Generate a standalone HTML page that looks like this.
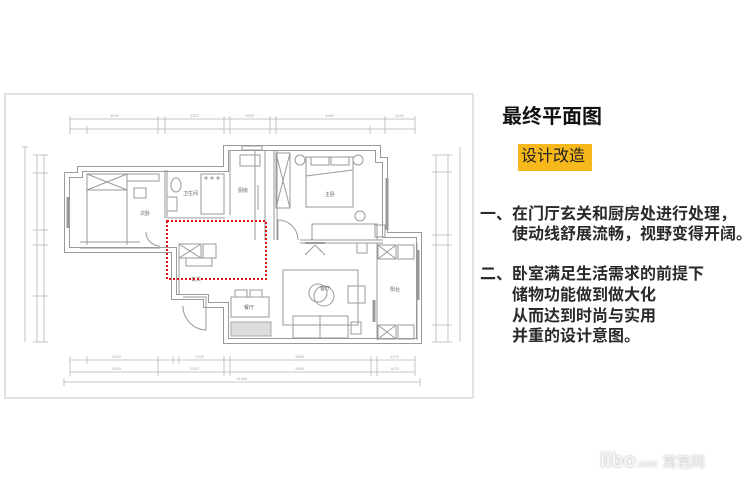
<!DOCTYPE html>
<html><head><meta charset="utf-8"><style>
html,body{margin:0;padding:0;background:#fff;width:750px;height:488px;overflow:hidden;position:relative;font-family:"Liberation Sans","Noto Sans CJK SC",sans-serif}
.t{position:absolute;color:#2a2a2a;font-size:16px;white-space:nowrap;font-weight:bold;line-height:20px}
</style></head><body>
<svg width="750" height="488" style="position:absolute;left:0;top:0" xmlns="http://www.w3.org/2000/svg">
<rect x="5" y="94" width="468" height="304" fill="none" stroke="#e2e2e2" stroke-width="2"/>
<g stroke="#b5b5b5" stroke-width="0.8" fill="none">
<!-- top dims -->
<line x1="70" y1="119" x2="415" y2="119"/><line x1="70" y1="129" x2="415" y2="129"/>
<g><line x1="70" y1="116" x2="70" y2="134"/><line x1="158" y1="116" x2="158" y2="134"/><line x1="165" y1="116" x2="165" y2="134"/><line x1="224" y1="116" x2="224" y2="134"/><line x1="230" y1="116" x2="230" y2="134"/><line x1="270" y1="116" x2="270" y2="134"/><line x1="276" y1="116" x2="276" y2="134"/><line x1="385" y1="116" x2="385" y2="134"/><line x1="415" y1="116" x2="415" y2="134"/><line x1="87" y1="126" x2="87" y2="134"/><line x1="370" y1="126" x2="370" y2="134"/></g>
<!-- left dims -->
<line x1="25" y1="147" x2="25" y2="342"/><line x1="37" y1="155" x2="37" y2="342"/><line x1="44" y1="155" x2="44" y2="342"/>
<g><line x1="33" y1="155" x2="48" y2="155"/><line x1="33" y1="173" x2="48" y2="173"/><line x1="33" y1="230" x2="48" y2="230"/><line x1="33" y1="245" x2="48" y2="245"/><line x1="33" y1="296" x2="48" y2="296"/><line x1="33" y1="342" x2="48" y2="342"/><line x1="22" y1="147" x2="28" y2="147"/></g>
<!-- right dims -->
<line x1="436" y1="155" x2="436" y2="342"/><line x1="448" y1="155" x2="448" y2="342"/><line x1="460" y1="147" x2="460" y2="342"/>
<g><line x1="432" y1="155" x2="452" y2="155"/><line x1="432" y1="172" x2="452" y2="172"/><line x1="432" y1="235" x2="452" y2="235"/><line x1="432" y1="245" x2="452" y2="245"/><line x1="432" y1="325" x2="452" y2="325"/><line x1="432" y1="342" x2="452" y2="342"/></g>
<!-- bottom dims -->
<line x1="70" y1="360" x2="415" y2="360"/><line x1="70" y1="372" x2="415" y2="372"/><line x1="64" y1="382" x2="420" y2="382"/>
<g><line x1="70" y1="356" x2="70" y2="376"/><line x1="87" y1="356" x2="87" y2="364"/><line x1="158" y1="356" x2="158" y2="376"/><line x1="173" y1="356" x2="173" y2="364"/><line x1="179" y1="356" x2="179" y2="364"/><line x1="224" y1="356" x2="224" y2="376"/><line x1="230" y1="356" x2="230" y2="376"/><line x1="371" y1="356" x2="371" y2="376"/><line x1="377" y1="356" x2="377" y2="376"/><line x1="415" y1="356" x2="415" y2="376"/><line x1="64" y1="378" x2="64" y2="386"/><line x1="420" y1="378" x2="420" y2="386"/></g>
</g>
<g font-size="4" fill="#aaa" font-family="Liberation Sans">
<text x="110" y="117">3490</text><text x="190" y="117">2320</text><text x="245" y="117">2530</text><text x="325" y="117">4360</text><text x="395" y="117">1020</text>
<text x="112" y="358">2950</text><text x="195" y="358">1700</text><text x="295" y="358">3560</text><text x="390" y="358">1470</text>
<text x="112" y="370">3490</text><text x="190" y="370">2520</text><text x="295" y="370">3560</text><text x="390" y="370">1470</text><text x="236" y="380">14360</text>
</g>
<!-- walls -->
<g fill="none" stroke-linejoin="miter">
<path id="w" d="M67,175 L80,175 L80,169 L226,169 L226,148 L378,148 L378,160 L385,160 L385,235 L419,235 L419,341 L226,341 L226,305 L206,305 L206,297 L174,297 L174,250 L67,250 Z" stroke="#9a9a9a" stroke-width="6"/>
<path d="M67,175 L80,175 L80,169 L226,169 L226,148 L378,148 L378,160 L385,160 L385,235 L419,235 L419,341 L226,341 L226,305 L206,305 L206,297 L174,297 L174,250 L67,250 Z" stroke="#fff" stroke-width="4"/>
</g>
<g stroke="#9a9a9a" stroke-width="1" fill="none">
<line x1="165" y1="170" x2="165" y2="218"/><line x1="167" y1="170" x2="167" y2="218"/>
<line x1="230" y1="150" x2="230" y2="215"/><line x1="255" y1="150" x2="255" y2="240"/><line x1="265" y1="150" x2="265" y2="240"/>
<line x1="274" y1="150" x2="274" y2="240"/><line x1="277" y1="150" x2="277" y2="240"/>
<line x1="80" y1="242" x2="140" y2="242"/><line x1="80" y1="248" x2="160" y2="248"/>
<line x1="300" y1="240" x2="383" y2="240"/><line x1="300" y1="243" x2="383" y2="243"/>
<line x1="168" y1="218" x2="225" y2="218"/>
<line x1="377" y1="243" x2="377" y2="340"/><line x1="417" y1="243" x2="417" y2="340"/>
<line x1="68" y1="197" x2="68" y2="228" stroke-width="3"/>
<line x1="418" y1="250" x2="418" y2="300" stroke-width="3"/>
<line x1="387" y1="178" x2="387" y2="230" stroke-width="3"/>
<line x1="374" y1="300" x2="374" y2="322" stroke-width="3"/>
<!-- bedroom2 -->
<rect x="87" y="174" width="40" height="16"/><line x1="87" y1="174" x2="127" y2="190"/><line x1="127" y1="174" x2="87" y2="190"/>
<rect x="127" y="174" width="32" height="7"/><line x1="87" y1="190" x2="87" y2="245"/><line x1="127" y1="190" x2="127" y2="245"/>
<rect x="134" y="188" width="12" height="10"/>
<path d="M160,246 A14,14 0 0 1 146,232"/>
<!-- bathroom -->
<ellipse cx="176" cy="185" rx="5" ry="7"/><rect x="167" y="197" width="10" height="14"/>
<rect x="201" y="174" width="23" height="40"/><circle cx="206" cy="178" r="1"/><circle cx="212" cy="178" r="1"/><circle cx="218" cy="178" r="1"/>
<!-- kitchen top -->
<rect x="240" y="155" width="20" height="11"/><rect x="242" y="146" width="20" height="4"/>
<line x1="258" y1="185" x2="258" y2="210"/>
<!-- master -->
<rect x="276" y="153" width="14" height="55"/><line x1="276" y1="153" x2="290" y2="208"/><line x1="290" y1="153" x2="276" y2="208"/>
<rect x="306" y="157" width="47" height="50"/><rect x="311" y="157" width="18" height="8"/><rect x="331" y="157" width="18" height="8"/>
<line x1="306" y1="176" x2="353" y2="170"/>
<circle cx="300" cy="160" r="5"/><circle cx="358" cy="160" r="5"/><circle cx="360" cy="216" r="5"/>
<rect x="312" y="224" width="65" height="16"/><rect x="375" y="225" width="10" height="12"/>
<path d="M278,240 L278,220 A20,20 0 0 1 298,240"/>
<!-- kitchen red area -->
<rect x="179" y="244" width="22" height="14"/><line x1="179" y1="244" x2="201" y2="258"/><line x1="201" y1="244" x2="179" y2="258"/>
<rect x="203" y="244" width="13" height="14"/><rect x="186" y="258" width="26" height="8"/>
<line x1="179" y1="258" x2="179" y2="295"/>
<path d="M183,297 L206,297 L206,330 A24,24 0 0 1 183,306"/>
<!-- dining -->
<rect x="231" y="297" width="38" height="20"/><rect x="235" y="290" width="12" height="7"/><rect x="250" y="290" width="12" height="7"/>
<rect x="231" y="322" width="40" height="14" fill="#ddd" stroke="#aaa"/>
<!-- living -->
<rect x="283" y="270" width="75" height="55"/><circle cx="318" cy="293" r="9"/><circle cx="324" cy="296" r="10"/>
<rect x="348" y="286" width="17" height="17"/><rect x="293" y="316" width="55" height="22"/><line x1="320" y1="316" x2="320" y2="338"/>
<rect x="351" y="322" width="10" height="12"/>
<line x1="305" y1="243" x2="325" y2="243" stroke-width="2"/><path d="M315,245 L305,255 M315,245 L325,255"/>
<rect x="357" y="243" width="10" height="10"/>
<!-- balcony -->
<rect x="378" y="245" width="18" height="14"/><line x1="378" y1="245" x2="396" y2="259"/><line x1="396" y1="245" x2="378" y2="259"/>
<rect x="398" y="245" width="16" height="14"/>
<rect x="378" y="325" width="18" height="14"/><line x1="378" y1="325" x2="396" y2="339"/><line x1="396" y1="325" x2="378" y2="339"/>
<rect x="398" y="325" width="16" height="14"/>
</g>
<g font-size="5" fill="#666" font-family="Noto Sans CJK SC">
<text x="140" y="215">次卧</text><text x="183" y="195">卫生间</text><text x="238" y="192">厨房</text><text x="325" y="196">主卧</text><text x="191" y="281">玄关</text><text x="244" y="309">餐厅</text><text x="320" y="290">客厅</text><text x="390" y="291">阳台</text>
</g>
<rect x="167" y="221" width="99" height="58" fill="none" stroke="#e01010" stroke-width="2" stroke-dasharray="2,2"/>
</svg>
<div class="t" style="left:502px;top:106px;font-size:20px;line-height:22px;color:#111">最终平面图</div>
<div style="position:absolute;left:518px;top:144px;width:74px;height:27px;background:#f6b81a"></div>
<div class="t" style="left:521px;top:147px;font-size:16px;color:#222;font-weight:normal">设计改造</div>
<div class="t" style="left:480px;top:205px">一、在门厅玄关和厨房处进行处理，</div>
<div class="t" style="left:512px;top:225px">使动线舒展流畅，视野变得开阔。</div>
<div class="t" style="left:480px;top:265px">二、卧室满足生活需求的前提下</div>
<div class="t" style="left:512px;top:286px">储物功能做到做大化</div>
<div class="t" style="left:512px;top:307px">从而达到时尚与实用</div>
<div class="t" style="left:512px;top:327px">并重的设计意图。</div>
<div style="position:absolute;left:600px;top:450px;font-size:20px;font-weight:bold;color:#f4f4f4;text-shadow:0 0 2px #aaa;white-space:nowrap">libo<span style="font-size:10px;font-weight:normal">.com</span> <span style="font-size:14px;font-weight:normal">篱笆网</span></div>
</body></html>
